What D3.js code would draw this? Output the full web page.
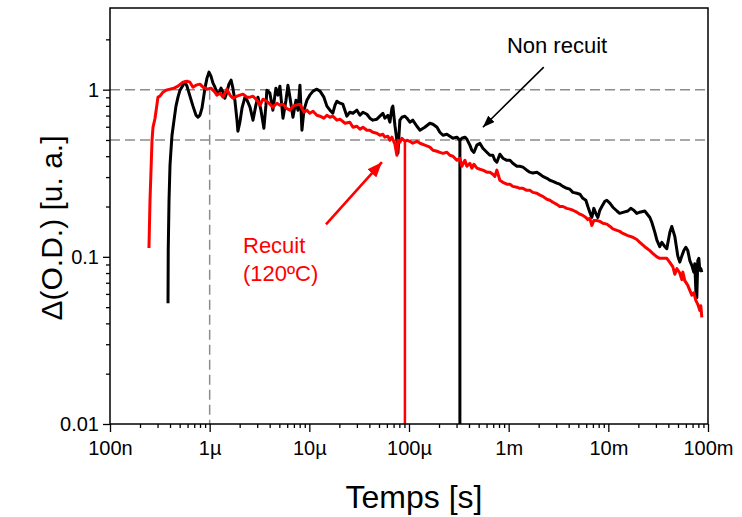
<!DOCTYPE html>
<html><head><meta charset="utf-8">
<script src="https://cdn.jsdelivr.net/npm/d3@7/dist/d3.min.js"></script>
<style>body{margin:0;background:#fff;} svg{display:block;font-family:"Liberation Sans",Arial,sans-serif;}</style>
</head><body><svg id="c" width="742" height="517"></svg>
<script>
// Recuit (120ºC) – red
const recuitT = [2.46e-7,2.52e-7,2.58e-7,2.64e-7,2.70e-7,2.83e-7,3.03e-7,3.17e-7,3.40e-7,3.65e-7,4.00e-7,4.39e-7,4.81e-7,5.40e-7,5.92e-7,6.34e-7,6.80e-7,7.29e-7,7.99e-7,8.57e-7,9.40e-7,1.03e-6,1.13e-6,1.18e-6,1.27e-6,1.36e-6,1.49e-6,1.60e-6,1.71e-6,1.88e-6,2.16e-6,2.37e-6,2.54e-6,2.72e-6,2.98e-6,3.20e-6,3.43e-6,3.75e-6,4.02e-6,4.31e-6,4.73e-6,5.07e-6,5.44e-6,5.83e-6,6.39e-6,6.85e-6,7.34e-6,8.05e-6,8.83e-6,9.46e-6,1.01e-5,1.09e-5,1.19e-5,1.28e-5,1.40e-5,1.50e-5,1.61e-5,1.72e-5,1.89e-5,2.03e-5,2.28e-5,2.55e-5,2.74e-5,3.00e-5,3.22e-5,3.45e-5,3.78e-5,4.05e-5,4.34e-5,4.76e-5,5.11e-5,5.47e-5,5.73e-5,6.14e-5,6.43e-5,6.74e-5,7.22e-5,7.56e-5,7.74e-5,8.10e-5,8.49e-5,9.10e-5,9.53e-5,1.02e-4,1.09e-4,1.20e-4,1.29e-4,1.44e-4,1.62e-4,1.74e-4,1.91e-4,2.04e-4,2.19e-4,2.40e-4,2.57e-4,2.76e-4,3.02e-4,3.24e-4,3.39e-4,3.64e-4,3.81e-4,4.08e-4,4.27e-4,4.48e-4,4.80e-4,5.14e-4,5.51e-4,6.04e-4,6.48e-4,6.94e-4,7.27e-4,7.61e-4,8.16e-4,8.75e-4,9.59e-4,1.03e-3,1.10e-3,1.21e-3,1.29e-3,1.39e-3,1.52e-3,1.63e-3,1.75e-3,1.92e-3,2.06e-3,2.20e-3,2.42e-3,2.59e-3,2.78e-3,3.04e-3,3.26e-3,3.50e-3,3.83e-3,4.11e-3,4.41e-3,4.83e-3,5.18e-3,5.55e-3,5.95e-3,6.23e-3,6.52e-3,6.83e-3,7.15e-3,7.67e-3,8.22e-3,8.81e-3,9.66e-3,1.04e-2,1.11e-2,1.22e-2,1.30e-2,1.40e-2,1.57e-2,1.76e-2,1.93e-2,2.07e-2,2.32e-2,2.61e-2,2.79e-2,3.07e-2,3.28e-2,3.52e-2,3.86e-2,4.14e-2,4.44e-2,4.65e-2,4.87e-2,5.21e-2,5.46e-2,5.59e-2,5.85e-2,6.27e-2,6.57e-2,6.88e-2,7.20e-2,7.55e-2,7.90e-2,8.28e-2,8.47e-2,8.67e-2];
const recuitV = [0.113,0.218,0.330,0.498,0.595,0.675,0.902,0.914,0.966,0.993,1.007,1.021,1.049,1.109,1.124,1.109,1.035,1.064,1.079,1.035,1.007,1.021,0.966,0.927,0.953,0.902,1.007,0.927,0.889,0.914,0.940,0.902,0.902,0.914,0.865,0.808,0.877,0.853,0.819,0.786,0.830,0.808,0.819,0.775,0.754,0.797,0.808,0.819,0.733,0.754,0.723,0.743,0.703,0.694,0.675,0.703,0.684,0.694,0.657,0.666,0.630,0.639,0.596,0.604,0.580,0.596,0.572,0.572,0.556,0.549,0.534,0.541,0.520,0.527,0.498,0.520,0.472,0.405,0.498,0.485,0.512,0.491,0.498,0.491,0.478,0.491,0.478,0.466,0.453,0.434,0.428,0.422,0.416,0.422,0.405,0.400,0.378,0.389,0.348,0.378,0.348,0.363,0.339,0.358,0.339,0.334,0.330,0.321,0.321,0.312,0.303,0.330,0.287,0.279,0.272,0.272,0.264,0.261,0.257,0.257,0.250,0.250,0.243,0.240,0.234,0.230,0.221,0.218,0.212,0.206,0.200,0.200,0.195,0.193,0.190,0.185,0.180,0.177,0.172,0.167,0.170,0.154,0.165,0.165,0.163,0.159,0.157,0.152,0.147,0.144,0.142,0.138,0.134,0.131,0.127,0.122,0.115,0.109,0.105,0.100,0.098,0.098,0.098,0.0927,0.087,0.0786,0.085,0.080,0.073,0.081,0.072,0.0675,0.063,0.059,0.061,0.0549,0.052,0.0478,0.051,0.0434];

// Non recuit – black
const nonRecuitT = [3.82e-7,3.84e-7,3.91e-7,4.00e-7,4.09e-7,4.19e-7,4.39e-7,4.59e-7,4.81e-7,5.04e-7,5.40e-7,5.65e-7,5.92e-7,6.34e-7,6.80e-7,7.29e-7,7.63e-7,7.99e-7,8.37e-7,8.97e-7,9.40e-7,9.84e-7,1.03e-6,1.08e-6,1.13e-6,1.18e-6,1.24e-6,1.30e-6,1.36e-6,1.42e-6,1.49e-6,1.56e-6,1.64e-6,1.71e-6,1.79e-6,1.88e-6,1.92e-6,2.01e-6,2.11e-6,2.26e-6,2.37e-6,2.54e-6,2.72e-6,2.91e-6,3.05e-6,3.27e-6,3.50e-6,3.67e-6,3.75e-6,4.02e-6,4.31e-6,4.62e-6,4.84e-6,5.07e-6,5.44e-6,5.83e-6,6.10e-6,6.39e-6,6.85e-6,7.34e-6,7.69e-6,8.05e-6,8.43e-6,8.83e-6,9.46e-6,1.01e-5,1.09e-5,1.19e-5,1.28e-5,1.40e-5,1.50e-5,1.61e-5,1.72e-5,1.81e-5,1.89e-5,2.03e-5,2.17e-5,2.38e-5,2.55e-5,2.74e-5,3.00e-5,3.22e-5,3.45e-5,3.78e-5,4.05e-5,4.34e-5,4.76e-5,5.11e-5,5.47e-5,5.73e-5,6.14e-5,6.43e-5,6.74e-5,6.89e-5,7.22e-5,7.56e-5,7.74e-5,8.10e-5,8.49e-5,9.10e-5,9.53e-5,1.02e-4,1.09e-4,1.20e-4,1.29e-4,1.44e-4,1.62e-4,1.74e-4,1.91e-4,2.04e-4,2.19e-4,2.40e-4,2.57e-4,2.76e-4,3.02e-4,3.24e-4,3.39e-4,3.64e-4,3.81e-4,4.08e-4,4.27e-4,4.48e-4,4.80e-4,5.14e-4,5.51e-4,6.04e-4,6.48e-4,6.94e-4,7.27e-4,7.61e-4,8.16e-4,8.75e-4,9.59e-4,1.03e-3,1.10e-3,1.21e-3,1.29e-3,1.39e-3,1.52e-3,1.63e-3,1.75e-3,1.92e-3,2.06e-3,2.20e-3,2.42e-3,2.59e-3,2.78e-3,3.04e-3,3.26e-3,3.50e-3,3.83e-3,4.11e-3,4.41e-3,4.83e-3,5.18e-3,5.55e-3,5.95e-3,6.23e-3,6.52e-3,6.83e-3,7.15e-3,7.49e-3,7.85e-3,8.22e-3,8.61e-3,9.23e-3,9.66e-3,1.04e-2,1.11e-2,1.22e-2,1.30e-2,1.43e-2,1.57e-2,1.68e-2,1.80e-2,1.93e-2,2.07e-2,2.32e-2,2.61e-2,2.73e-2,2.93e-2,3.07e-2,3.28e-2,3.44e-2,3.69e-2,3.86e-2,4.14e-2,4.33e-2,4.65e-2,4.98e-2,5.21e-2,5.46e-2,5.72e-2,5.99e-2,6.27e-2,6.57e-2,6.88e-2,7.20e-2,7.37e-2,7.55e-2,7.72e-2,7.90e-2,8.09e-2,8.28e-2,8.47e-2,8.67e-2];
const nonRecuitV = [0.0527,0.109,0.218,0.353,0.434,0.534,0.657,0.797,0.902,0.993,1.064,1.109,1.049,0.914,0.797,0.704,0.684,0.704,0.775,1.021,1.172,1.273,1.205,1.094,1.035,0.966,0.953,1.021,0.966,0.889,0.966,1.079,1.140,1.021,0.865,0.657,0.564,0.639,0.775,0.902,0.865,0.786,0.657,0.808,0.902,0.754,0.588,0.808,0.993,0.953,0.754,1.021,0.927,1.049,0.675,0.865,1.064,0.902,0.684,0.865,0.754,1.064,0.572,0.754,0.865,0.927,0.980,1.007,0.980,0.902,0.797,0.754,0.723,0.808,0.853,0.830,0.819,0.694,0.733,0.723,0.754,0.703,0.733,0.713,0.675,0.657,0.666,0.694,0.723,0.675,0.703,0.639,0.775,0.797,0.613,0.498,0.417,0.657,0.684,0.694,0.675,0.639,0.657,0.604,0.572,0.596,0.630,0.621,0.596,0.556,0.534,0.541,0.527,0.512,0.520,0.498,0.512,0.520,0.505,0.466,0.434,0.422,0.466,0.478,0.446,0.422,0.405,0.405,0.378,0.368,0.411,0.389,0.378,0.378,0.363,0.348,0.348,0.344,0.330,0.321,0.317,0.321,0.312,0.303,0.295,0.287,0.283,0.276,0.272,0.264,0.257,0.254,0.243,0.240,0.237,0.224,0.218,0.200,0.185,0.172,0.195,0.182,0.172,0.190,0.200,0.215,0.218,0.209,0.198,0.188,0.182,0.185,0.188,0.195,0.190,0.182,0.185,0.188,0.172,0.161,0.140,0.126,0.115,0.122,0.115,0.112,0.140,0.152,0.132,0.101,0.093,0.101,0.109,0.114,0.109,0.095,0.089,0.081,0.091,0.063,0.057,0.095,0.098,0.083,0.085,0.081];

const xTickValues = [1e-7,1e-6,1e-5,1e-4,1e-3,1e-2,1e-1];
const xTickLabels = ["100n","1µ","10µ","100µ","1m","10m","100m"];
const yTickValues = [0.01,0.1,1];
const yTickLabels = ["0.01","0.1","1"];
const refLevels = [1, 0.5];
const refTime = 1e-6;
const halfTimes = [9.1e-5, 3.24e-4];   // recuit, non recuit
const halfLevel = 0.5;

const W = 742, H = 517;
const m = {left:110, right:34, top:8, bottom:93};
const svg = d3.select("#c");
const x = d3.scaleLog().domain([1e-7, 1e-1]).range([m.left, W - m.right]);
const y = d3.scaleLog().domain([0.01, 3.08]).range([H - m.bottom, m.top]);
const x0 = x.range()[0], x1 = x.range()[1], yb = y.range()[0], yt = y.range()[1];

// minor ticks
const xMinor = [];
for (let d = -7; d < -1; d++) for (let k = 2; k <= 9; k++) xMinor.push(k * Math.pow(10, d));
const yMinor = [];
for (let d = -2; d <= 0; d++) for (let k = 2; k <= 9; k++) { const v = k * Math.pow(10, d); if (v < 3.0) yMinor.push(v); }

// reference dashed lines
const grid = svg.append("g").attr("stroke", "#8c8c8c").attr("stroke-width", 1.5).attr("stroke-dasharray", "10,5").attr("fill","none");
refLevels.forEach(v => grid.append("line").attr("x1", x0).attr("x2", x1).attr("y1", y(v)).attr("y2", y(v)));
grid.append("line").attr("x1", x(refTime)).attr("x2", x(refTime)).attr("y1", y(1)).attr("y2", yb);

// vertical markers
const colors = ["#ff0000", "#000000"];
halfTimes.forEach((t, i) => svg.append("line").attr("x1", x(t)).attr("x2", x(t)).attr("y1", y(halfLevel)).attr("y2", yb)
  .attr("stroke", colors[i]).attr("stroke-width", i ? 3 : 2.5));

// curves
const line = d3.line().x(d => x(d[0])).y(d => y(d[1]));
const blackData = nonRecuitT.map((t, i) => [t, nonRecuitV[i]]);
const redData = recuitT.map((t, i) => [t, recuitV[i]]);
svg.append("path").datum(blackData).attr("d", line).attr("fill", "none").attr("stroke", "#000").attr("stroke-width", 3).attr("stroke-linejoin","round");
svg.append("path").datum(redData).attr("d", line).attr("fill", "none").attr("stroke", "#ff0000").attr("stroke-width", 3).attr("stroke-linejoin","round");

// axes
const axStyle = g => { g.select(".domain").remove(); g.selectAll("line").attr("stroke","#000").attr("stroke-width",1.3); g.selectAll("text").attr("font-family",'"Liberation Sans",Arial,sans-serif').attr("font-size",20).attr("fill","#000"); };
svg.append("g").attr("transform", `translate(0,${yb})`).call(d3.axisBottom(x).tickValues(xMinor).tickSize(4).tickFormat("")).call(axStyle);
svg.append("g").attr("transform", `translate(0,${yb})`).call(d3.axisBottom(x).tickValues(xTickValues).tickSize(8).tickPadding(9).tickFormat((d, i) => xTickLabels[i])).call(axStyle);
svg.append("g").attr("transform", `translate(${x0},0)`).call(d3.axisLeft(y).tickValues(yMinor).tickSize(4).tickFormat("")).call(axStyle);
svg.append("g").attr("transform", `translate(${x0},0)`).call(d3.axisLeft(y).tickValues(yTickValues).tickSize(7).tickPadding(4).tickFormat((d, i) => yTickLabels[i])).call(axStyle);

// frame
svg.append("rect").attr("x", x0).attr("y", yt).attr("width", x1 - x0).attr("height", yb - yt).attr("fill","none").attr("stroke","#000").attr("stroke-width",1.5);

// axis titles
svg.append("text").attr("x", (x0 + x1) / 2 + 5).attr("y", 508).attr("text-anchor","middle").attr("font-size",32).text("Temps [s]");
svg.append("text").attr("transform", `translate(62,${(yt + yb) / 2 + 12}) rotate(-90)`).attr("text-anchor","middle").attr("font-size",30).text("Δ(O.D.) [u. a.]");

// annotations
const defs = svg.append("defs");
function marker(id, color, w, h) {
  defs.append("marker").attr("id", id).attr("viewBox", `0 0 ${w} ${h}`).attr("refX", w).attr("refY", h/2)
    .attr("markerWidth", w).attr("markerHeight", h).attr("markerUnits","userSpaceOnUse").attr("orient","auto")
    .append("path").attr("d", `M0,0L${w},${h/2}L0,${h}Z`).attr("fill", color);
}
marker("ab", "#000", 12, 9);
marker("ar", "#ff0000", 15, 12);
svg.append("line").attr("x1", x(2.25e-3)).attr("y1", y(1.364)).attr("x2", x(5.51e-4)).attr("y2", y(0.596))
  .attr("stroke","#000").attr("stroke-width",1.6).attr("marker-end","url(#ab)");
svg.append("line").attr("x1", x(1.47e-5)).attr("y1", y(0.1565)).attr("x2", x(5.35e-5)).attr("y2", y(0.368))
  .attr("stroke","#ff0000").attr("stroke-width",2.6).attr("marker-end","url(#ar)");
svg.append("text").attr("x", x(9.6e-4)).attr("y", y(1.654)).attr("font-size",22).attr("fill","#000").text("Non recuit");
svg.append("text").attr("x", x(2.16e-6)).attr("y", y(0.105)).attr("font-size",22).attr("fill","#ff0000").text("Recuit");
svg.append("text").attr("x", x(2.16e-6)).attr("y", y(0.0713)).attr("font-size",22).attr("fill","#ff0000").text("(120ºC)");
</script></body></html>
